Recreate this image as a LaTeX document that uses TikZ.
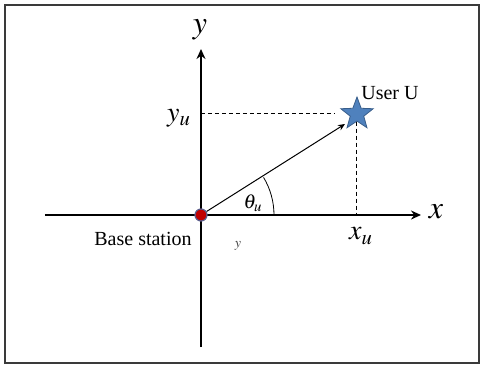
\documentclass[tikz,border=0pt]{standalone}
\usepackage{mathptmx}
\usepackage[no-math]{fontspec}
\setmainfont{Liberation Serif}
\usetikzlibrary{arrows.meta,shapes.geometric}
\definecolor{starblue}{HTML}{4F81BD}
\definecolor{starline}{HTML}{385D8A}
\definecolor{bsred}{HTML}{C00000}
\definecolor{bsline}{HTML}{5B5E8C}
\definecolor{framegray}{HTML}{3A3A3A}
\tikzset{
  axisline/.style={-{Stealth[length=5pt,width=4.5pt]}, line width=1pt, color=black},
  guide/.style={line width=0.5pt, dash pattern=on 2pt off 1.5pt},
  ray/.style={-{Stealth[length=3.5pt,width=3pt]}, line width=0.5pt},
  lbl/.style={inner sep=0pt, font=\fontsize{10}{12}\selectfont},
  bigmath/.style={inner sep=0pt, font=\fontsize{16}{18}\selectfont}}

\begin{document}
\begin{tikzpicture}[x=0.5pt, y=-0.5pt]
  \useasboundingbox (0,0) rectangle (484,365);
  \draw[framegray, line width=0.75pt] (5,5) rectangle (479,363);
  % axes
  \coordinate (xl) at (45,215);
  \coordinate (xr) at (421,215);
  \coordinate (yb) at (201,347);
  \coordinate (yt) at (201,49);
  \draw[axisline] (xl) -- (xr);
  \draw[axisline] (yb) -- (yt);
  \node[bigmath] (ylab) at (200,30) {$y$};
  \node[bigmath] (xlab) at (436,212) {$x$};
  % user and base station
  \node[star, star points=5, star point ratio=2.4, minimum size=17pt, inner sep=0pt,
        fill=starblue, draw=starline, line width=0.4pt] (user) at (357,114) {};
  \node[circle, minimum size=6pt, inner sep=0pt, fill=bsred, draw=bsline,
        line width=0.6pt] (bs) at (201,215) {};
  \coordinate (yu) at (201,113);
  \coordinate (xu) at (357,215);
  \draw[guide] (yu) -- (335,113);
  \draw[guide] (user.south) -- (xu);
  \draw[ray] (bs) -- (345,124);
  \draw[line width=0.4pt] (274,215) arc[start angle=0, end angle=-31, radius=73];
  % labels
  \node[inner sep=0pt, font=\fontsize{14}{16}\selectfont] (yulab) at (179,118) {$y_u$};
  \node[inner sep=0pt, font=\fontsize{14}{16}\selectfont] (xulab) at (361,236) {$x_u$};
  \node[inner sep=0pt, font=\fontsize{10}{12}\selectfont] (thlab) at (253,203) {$\theta_u$};
  \node[lbl] (bslab) at (143,239) {Base station};
  \node[lbl] (userlab) at (390,93) {User U};
  \node[inner sep=0pt, font=\fontsize{7}{8}\selectfont, text=black!75] (ysmall) at (238,246) {$y$};
\end{tikzpicture}
\end{document}
